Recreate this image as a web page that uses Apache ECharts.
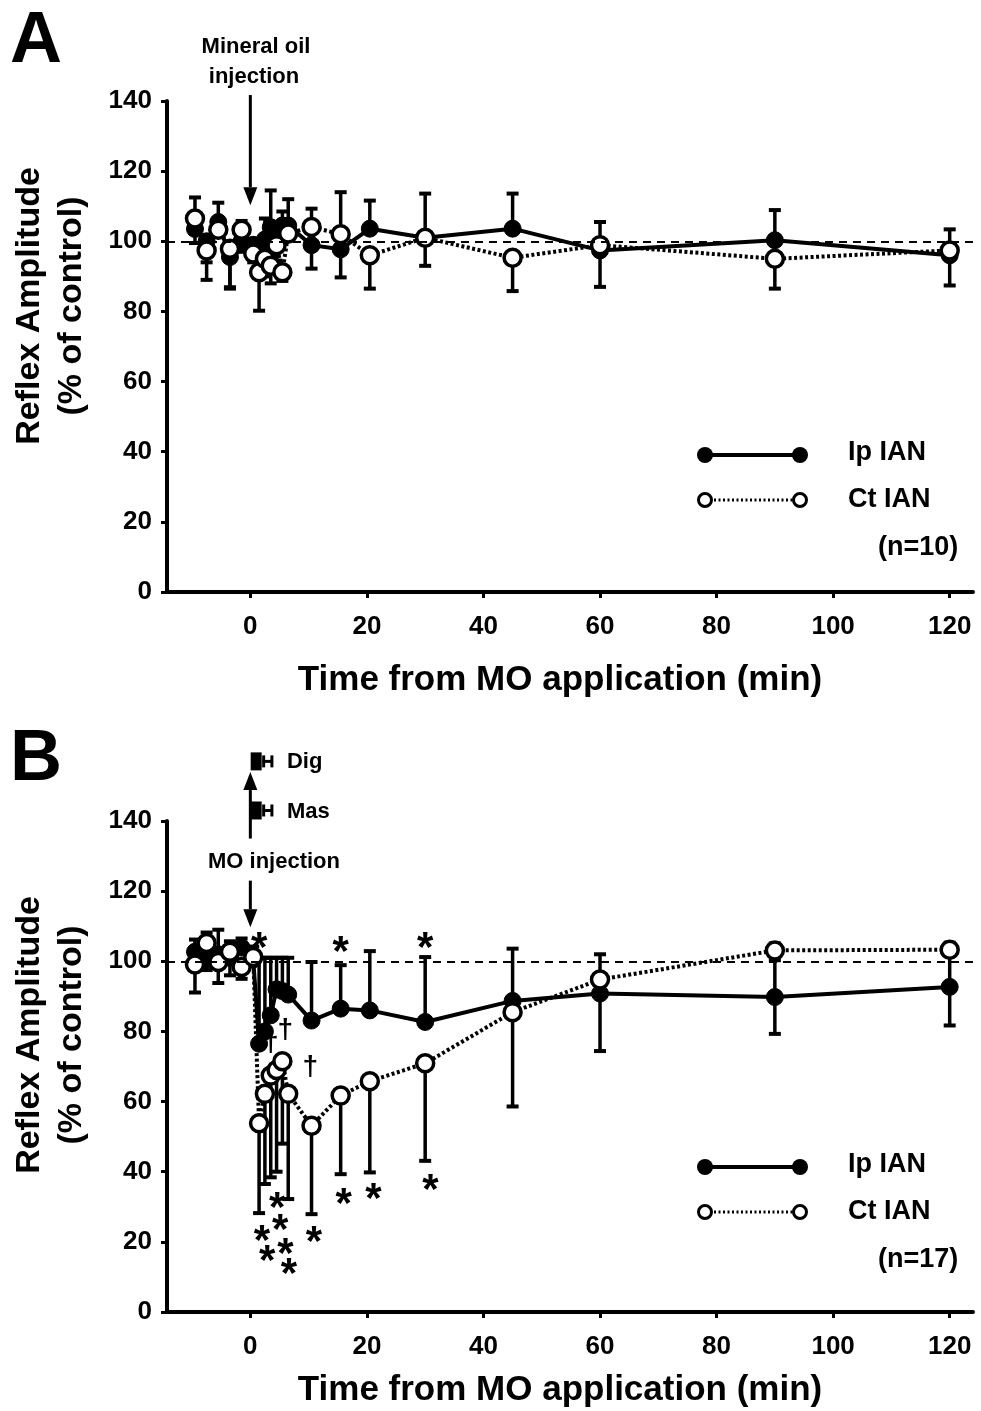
<!DOCTYPE html>
<html><head><meta charset="utf-8">
<script src="https://cdn.jsdelivr.net/npm/echarts@6/dist/echarts.min.js"></script>
<style>html,body{margin:0;padding:0;background:#fff}#c{width:981px;height:1411px}</style>
</head><body><div id="c"></div>
<script>
// ---------- data ----------
const times = [-9.5,-7.5,-5.5,-3.5,-1.5,0.5,1.5,2.5,3.5,4.5,5.5,6.5,10.5,15.5,20.5,30,45,60,90,120];
const xTickValues = [0,20,40,60,80,100,120];
const controlLevel = 100;

// Panel A (mineral oil, n=10)
const aIp    = [103.5,100,105.5,95.5,100,99,97,100.5,104,99.5,104.5,104.5,98.9,97.7,103.6,101,103.6,97.4,100.3,96];
const aIpSem = [4,6,5.5,9,3,5,6,6,10.5,5,4,7.5,6.7,8,8,12.6,10,10.4,8.6,8.6];
const aIpSide= ['d','d','u','d','d','d','d','u','u','d','u','u','d','d','u','u','u','d','u','d'];
const aCt    = [106.5,97.4,103.3,97.9,103.3,96.5,91.2,95,93,98.9,91.2,102.2,104.1,102,96,101,95.3,98.9,95,97.4];
const aCtSem = [6,8.4,3,11,2.5,4,11,5,5,5,2.5,3,5.2,12,9.5,8,9.5,6.6,8.5,6];
const aCtSide= ['u','d','u','d','u','u','d','d','d','u','d','u','u','u','d','d','d','u','d','u'];

// Panel B (MO injection, n=17)
const bIp    = [102.7,100.5,102,101,103.9,100.5,76.5,80,84.6,92,91.5,90.5,83.1,86.5,86,82.7,88.7,90.8,89.8,92.7];
const bIpSem = [3.5,3,7,5,2.6,2,24.5,21,16.4,9,9.5,10.5,16.7,12.4,16.9,18.5,14.9,16.4,10.5,11];
const bIpSide= ['u','d','u','d','u','u','u','u','u','u','u','u','u','u','u','u','u','d','b','b'];
const bCt    = [99.1,105.2,99.8,102.7,98.4,101.2,53.8,62.2,67.4,69,71.5,62.2,53.1,61.7,65.8,70.9,85.5,94.8,103.1,103.3];
const bCtSem = [8,3,6,3,3.4,3,25.6,25.7,29,29,23.5,30,25.2,22.4,26,27.8,26.9,7.2,2,2];
const bCtSide= ['d','u','d','u','d','u','d','d','d','d','d','d','d','d','d','d','d','u','u','u'];

// significance marks in panel B [time, level]
const starsB = [[1.5,106.5],[15.5,105.5],[30,106.5],[2.0,23.1],[4.6,32.3],[5.1,26],[2.9,17.4],[6.0,19.3],[6.6,13.6],[10.9,22.7],[16,33.6],[21.1,35],[30.9,37.4]];
const daggersB = [[3.5,76.5],[6.0,80.3],[10.3,69.8]];

// injection arrows [time, from, to]
const arrowsA = [[0,141.7,110.3]];
const arrowsB = [[0,123,109.7],[0,135,154]];

// EMG onset markers (panel B): [mean time, whisker end, level]
const onsetNames = ['Dig','Mas'];
const onsetMean = [1.0,1.0];
const onsetHi = [3.7,3.7];
const onsetLevel = [157,143];

// ---------- chart ----------
const FONT = '"Liberation Sans", Arial, sans-serif';
const chart = echarts.init(document.getElementById('c'), null, {renderer:'canvas'});
const grids = [
  {left:167, top:101, width:806, height:491},
  {left:167, top:821, width:806, height:491}
];
function xAx(g){
  return {type:'value', gridIndex:g, min:-14.3, max:124,
    axisLine:{show:true, onZero:false, lineStyle:{color:'#000', width:4}},
    axisTick:{show:true, customValues:xTickValues, length:6, lineStyle:{color:'#000', width:3}},
    axisLabel:{customValues:xTickValues, fontSize:26, fontWeight:'bold', color:'#000', fontFamily:FONT, margin:22},
    splitLine:{show:false}};
}
function yAx(g){
  return {type:'value', gridIndex:g, min:0, max:140, interval:20,
    axisLine:{show:true, onZero:false, lineStyle:{color:'#000', width:4}},
    axisTick:{show:true, length:6, lineStyle:{color:'#000', width:3}},
    axisLabel:{fontSize:26, fontWeight:'bold', color:'#000', fontFamily:FONT, margin:15},
    splitLine:{show:false}};
}
function lineSeries(g, vals, open){
  return {type:'line', xAxisIndex:g, yAxisIndex:g, z: open?4:3, silent:true,
    data: times.map((t,i)=>[t, vals[i]]),
    symbol:'circle', symbolSize:17, showAllSymbol:true,
    itemStyle: open ? {color:'#fff', borderColor:'#000', borderWidth:3.5} : {color:'#000', borderColor:'#000', borderWidth:1},
    lineStyle: open ? {color:'#000', width:4, type:[3,2.5]} : {color:'#000', width:4},
    markLine: open ? undefined : {silent:true, symbol:'none', label:{show:false},
      lineStyle:{color:'#000', width:2, type:[8,6]}, data:[{yAxis:controlLevel}]}
  };
}
function errSeries(g, vals, sem, side){
  return {type:'custom', xAxisIndex:g, yAxisIndex:g, z:2, silent:true, clip:false,
    data: times.map((t,i)=>[t, vals[i], sem[i], side[i]==='u'?1:(side[i]==='d'?-1:0)]),
    renderItem(params, api){
      const t=api.value(0), v=api.value(1), e=api.value(2), d=api.value(3);
      const p=api.coord([t,v]); const kids=[];
      const add=(s)=>{ const q=api.coord([t, v+s*e]);
        kids.push({type:'line', shape:{x1:p[0],y1:p[1],x2:q[0],y2:q[1]}, style:{stroke:'#000', lineWidth:3.5}});
        kids.push({type:'line', shape:{x1:q[0]-6,y1:q[1],x2:q[0]+6,y2:q[1]}, style:{stroke:'#000', lineWidth:4}});
      };
      if(d>=0) add(1); if(d<=0) add(-1);
      return {type:'group', children:kids};
    }};
}
function textSeries(g, pts, txt, size, dy, z){
  return {type:'custom', xAxisIndex:g, yAxisIndex:g, z:z, silent:true, clip:false,
    data: pts, renderItem(params, api){
      const p=api.coord([api.value(0), api.value(1)]);
      return {type:'text', x:p[0], y:p[1]+dy, style:{text:txt, font:'bold '+size+'px '+FONT, fill:'#000', align:'center', verticalAlign:'middle'}};
    }};
}
function arrowSeries(g, arr){
  return {type:'custom', xAxisIndex:g, yAxisIndex:g, z:5, silent:true, clip:false,
    data: arr, renderItem(params, api){
      const t=api.value(0);
      const a=api.coord([t, api.value(1)]), b=api.coord([t, api.value(2)]);
      const dir = b[1]>a[1] ? 1 : -1;
      const hl=18, hw=7;
      return {type:'group', children:[
        {type:'line', shape:{x1:a[0],y1:a[1],x2:b[0],y2:b[1]-dir*hl}, style:{stroke:'#000', lineWidth:3}},
        {type:'polygon', shape:{points:[[b[0],b[1]],[b[0]-hw,b[1]-dir*hl],[b[0]+hw,b[1]-dir*hl]]}, style:{fill:'#000'}}
      ]};
    }};
}
function onsetSeries(g){
  return {type:'custom', xAxisIndex:g, yAxisIndex:g, z:6, silent:true, clip:false,
    data: onsetNames.map((n,i)=>[onsetMean[i], onsetLevel[i], onsetHi[i], i]),
    renderItem(params, api){
      const p=api.coord([api.value(0), api.value(1)]);
      const h=api.coord([api.value(2), api.value(1)]);
      const i=api.value(3);
      const w=11, ht=18, x0=p[0]+w/2+1;
      return {type:'group', children:[
        {type:'rect', shape:{x:p[0]-w/2, y:p[1]-ht/2, width:w, height:ht}, style:{fill:'#000'}},
        {type:'line', shape:{x1:x0,y1:p[1],x2:h[0],y2:p[1]}, style:{stroke:'#000', lineWidth:3}},
        {type:'line', shape:{x1:x0+1,y1:p[1]-6,x2:x0+1,y2:p[1]+6}, style:{stroke:'#000', lineWidth:3}},
        {type:'line', shape:{x1:h[0],y1:p[1]-6,x2:h[0],y2:p[1]+6}, style:{stroke:'#000', lineWidth:3}},
        {type:'text', x:h[0]+15, y:p[1]+1, style:{text:onsetNames[i], font:'bold 22px '+FONT, fill:'#000', align:'left', verticalAlign:'middle'}}
      ]};
    }};
}

function legendGraphics(top, nText){
  const x1=705, x2=800, y1=top, y2=top+45;
  const T = (x,y,s)=>({type:'text', x:x, y:y, style:{text:s, font:'bold 27px '+FONT, fill:'#000', align:'left', verticalAlign:'middle'}});
  return [
    {type:'line', shape:{x1:x1,y1:y1,x2:x2,y2:y1}, style:{stroke:'#000', lineWidth:4}},
    {type:'circle', shape:{cx:x1,cy:y1,r:8}, style:{fill:'#000'}},
    {type:'circle', shape:{cx:x2,cy:y1,r:8}, style:{fill:'#000'}},
    {type:'line', shape:{x1:x1,y1:y2,x2:x2,y2:y2}, style:{stroke:'#000', lineWidth:3, lineDash:[2,2.5]}},
    {type:'circle', shape:{cx:x1,cy:y2,r:6.5}, style:{fill:'#fff', stroke:'#000', lineWidth:3}},
    {type:'circle', shape:{cx:x2,cy:y2,r:6.5}, style:{fill:'#fff', stroke:'#000', lineWidth:3}},
    T(848, y1-2, 'Ip IAN'), T(848, y2, 'Ct IAN'), T(878, y2+48, nText)
  ];
}
function yTitle(cy){
  return [
    {type:'text', x:30, y:cy, rotation:Math.PI/2, style:{text:'Reflex Amplitude', font:'bold 34px '+FONT, fill:'#000', align:'center', verticalAlign:'middle'}},
    {type:'text', x:72, y:cy, rotation:Math.PI/2, style:{text:'(% of control)', font:'bold 34px '+FONT, fill:'#000', align:'center', verticalAlign:'middle'}}
  ];
}
function bigText(x,y,s,size,align){
  return {type:'text', x:x, y:y, style:{text:s, font:'bold '+size+'px '+FONT, fill:'#000', align:align||'center', verticalAlign:'middle'}};
}

const graphics = [].concat(
  [bigText(10,42,'A',72,'left'), bigText(10,760,'B',72,'left')],
  [bigText(256,47,'Mineral oil',22), bigText(254,77,'injection',22), bigText(274,862,'MO injection',22)],
  yTitle(306), yTitle(1035),
  [bigText(560,680,'Time from MO application (min)',35), bigText(560,1390,'Time from MO application (min)',35)],
  legendGraphics(455,'(n=10)'), legendGraphics(1167,'(n=17)')
);

chart.setOption({
  animation:false,
  backgroundColor:'#fff',
  grid: grids,
  xAxis:[xAx(0), xAx(1)],
  yAxis:[yAx(0), yAx(1)],
  series:[
    errSeries(0,aIp,aIpSem,aIpSide), errSeries(0,aCt,aCtSem,aCtSide),
    lineSeries(0,aIp,false), lineSeries(0,aCt,true),
    arrowSeries(0,arrowsA),
    errSeries(1,bIp,bIpSem,bIpSide), errSeries(1,bCt,bCtSem,bCtSide),
    lineSeries(1,bIp,false), lineSeries(1,bCt,true),
    textSeries(1, starsB, '*', 42, 11, 6),
    textSeries(1, daggersB, '†', 28, 0, 1),
    arrowSeries(1,arrowsB),
    onsetSeries(1)
  ],
  graphic: graphics
});
</script></body></html>
